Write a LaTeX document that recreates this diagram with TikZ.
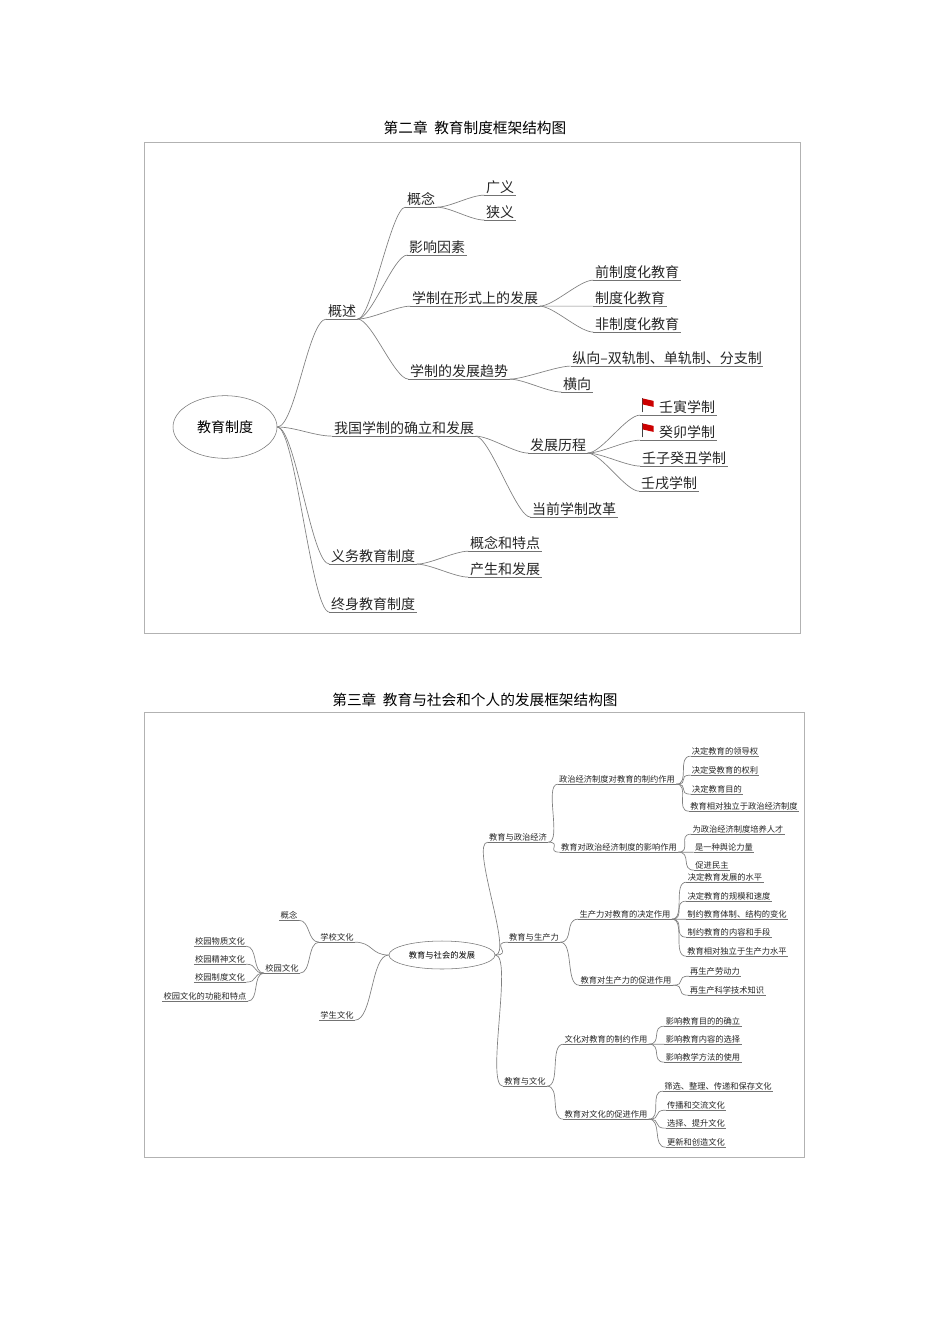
\documentclass[tikz,border=0pt]{standalone}
\usepackage{fontspec}
\setmainfont{Noto Sans CJK SC}
\newfontfamily\ttl{Noto Sans CJK SC}
\usetikzlibrary{shapes.geometric}
\tikzset{
 u/.style={inner sep=1pt, font=\fontsize{10.5}{12}\selectfont, text=black!85,
   append after command={(\tikzlastnode.south west) edge[draw=black!55,line width=0.5pt] (\tikzlastnode.south east)}},
 s/.style={u, font=\fontsize{6.2}{7}\selectfont, inner sep=0.8pt},
 lnk/.style={draw=black!50, line width=0.5pt},
 frm/.style={draw=black!30, line width=0.6pt},
 ttlst/.style={font=\fontsize{11}{13}\selectfont\ttl}
}
\newcommand{\lk}[2]{\draw[lnk] (#1.south east) .. controls +(14,0) and +(-14,0) .. (#2.south west);}
\newcommand{\lkr}[2]{\draw[lnk] (#1.east) .. controls +(18,0) and +(-18,0) .. (#2.south west);}
\newcommand{\lkrl}[2]{\draw[lnk] (#1.west) .. controls +(-18,0) and +(18,0) .. (#2.south east);}
\newcommand{\lkl}[2]{\draw[lnk] (#1.south west) .. controls +(-12,0) and +(12,0) .. (#2.south east);}
\newcommand{\flag}[1]{%
 \draw[black!55,line width=0.5pt] ([xshift=-13pt]#1.south west) -- (#1.south west);
 \draw[black!75,line width=0.7pt] ([xshift=-11pt,yshift=2pt]#1.south west) -- ++(0,-14);
 \fill[red!80!black] ([xshift=-11pt,yshift=2pt]#1.south west) ++(0,-14) -- ++(11,2.5) -- ++(0,6) -- ++(-11,-2.5) -- cycle;}
\begin{document}
\begin{tikzpicture}[x=0.75pt,y=-0.75pt]
\useasboundingbox (0,0) rectangle (950,1344);
\fill[white] (0,0) rectangle (950,1344);
% ---------- diagram 1
\node[ttlst] (t1) at (475,128) {第二章\ \ 教育制度框架结构图};
\draw[frm] (144,142) rectangle (800,633);
\node[draw=black!55, ellipse, minimum width=78pt, minimum height=47pt, font=\fontsize{10.5}{12}\selectfont] (r1) at (225,427) {教育制度};
\node[u] (a) at (342,311) {概述};
\node[u] (a1) at (421,199) {概念};
\node[u] (a11) at (500,187) {广义};
\node[u] (a12) at (500,212) {狭义};
\node[u] (a2) at (437,247) {影响因素};
\node[u] (a3) at (475,298) {学制在形式上的发展};
\node[u] (a31) at (637,272) {前制度化教育};
\node[u] (a32) at (630,298) {制度化教育};
\node[u] (a33) at (637,324) {非制度化教育};
\node[u] (a4) at (459,371) {学制的发展趋势};
\node[u] (a41) at (667,358) {纵向--双轨制、单轨制、分支制};
\node[u] (a42) at (577,384) {横向};
\node[u] (b) at (404,428) {我国学制的确立和发展};
\node[u] (b1) at (558,445) {发展历程};
\node[u] (b11) at (687,407) {壬寅学制};
\node[u] (b12) at (687,432) {癸卯学制};
\node[u] (b13) at (684,458) {壬子癸丑学制};
\node[u] (b14) at (669,483) {壬戌学制};
\node[u] (b2) at (574,509) {当前学制改革};
\node[u] (c) at (373,556) {义务教育制度};
\node[u] (c1) at (505,543) {概念和特点};
\node[u] (c2) at (505,569) {产生和发展};
\node[u] (d) at (373,604) {终身教育制度};
\flag{b11}\flag{b12}
\lkr{r1}{a}\lkr{r1}{b}\lkr{r1}{c}\lkr{r1}{d}
\lk{a}{a1}\lk{a}{a2}\lk{a}{a3}\lk{a}{a4}
\lk{a1}{a11}\lk{a1}{a12}
\lk{a3}{a31}\lk{a3}{a32}\lk{a3}{a33}
\lk{a4}{a41}\lk{a4}{a42}
\lk{b}{b1}\lk{b}{b2}
\draw[lnk] (b1.south east) .. controls +(14,0) and +(-14,0) .. ([xshift=-13pt]b11.south west);
\draw[lnk] (b1.south east) .. controls +(14,0) and +(-14,0) .. ([xshift=-13pt]b12.south west);
\lk{b1}{b13}\lk{b1}{b14}
\lk{c}{c1}\lk{c}{c2}
% ---------- diagram 2
\node[ttlst] (t2) at (475,700) {第三章\ \ 教育与社会和个人的发展框架结构图};
\draw[frm] (144,712) rectangle (804,1157);
\node[draw=black!55, ellipse, minimum width=60pt, minimum height=21pt, font=\fontsize{6.2}{7}\selectfont] (r2) at (442,955) {教育与社会的发展};
\node[s] (p) at (518,837) {教育与政治经济};
\node[s] (p1) at (617,779) {政治经济制度对教育的制约作用};
\node[s] (p11) at (725,751) {决定教育的领导权};
\node[s] (p12) at (725,770) {决定受教育的权利};
\node[s] (p13) at (717,789) {决定教育目的};
\node[s] (p14) at (744,806) {教育相对独立于政治经济制度};
\node[s] (p2) at (619,847) {教育对政治经济制度的影响作用};
\node[s] (p21) at (738,829) {为政治经济制度培养人才};
\node[s] (p22) at (724,847) {是一种舆论力量};
\node[s] (p23) at (712,865) {促进民主};
\node[s] (q) at (534,937) {教育与生产力};
\node[s] (q1) at (625,914) {生产力对教育的决定作用};
\node[s] (q11) at (725,877) {决定教育发展的水平};
\node[s] (q12) at (729,896) {决定教育的规模和速度};
\node[s] (q13) at (737,914) {制约教育体制、结构的变化};
\node[s] (q14) at (729,932) {制约教育的内容和手段};
\node[s] (q15) at (737,951) {教育相对独立于生产力水平};
\node[s] (q2) at (626,980) {教育对生产力的促进作用};
\node[s] (q21) at (715,971) {再生产劳动力};
\node[s] (q22) at (727,990) {再生产科学技术知识};
\node[s] (w) at (525,1081) {教育与文化};
\node[s] (w1) at (606,1039) {文化对教育的制约作用};
\node[s] (w11) at (703,1021) {影响教育目的的确立};
\node[s] (w12) at (703,1039) {影响教育内容的选择};
\node[s] (w13) at (703,1057) {影响教学方法的使用};
\node[s] (w2) at (606,1114) {教育对文化的促进作用};
\node[s] (w21) at (718,1086) {筛选、整理、传递和保存文化};
\node[s] (w22) at (696,1105) {传播和交流文化};
\node[s] (w23) at (696,1123) {选择、提升文化};
\node[s] (w24) at (696,1142) {更新和创造文化};
\node[s] (x) at (337,937) {学校文化};
\node[s] (x1) at (289,915) {概念};
\node[s] (x2) at (282,968) {校园文化};
\node[s] (x21) at (220,941) {校园物质文化};
\node[s] (x22) at (220,959) {校园精神文化};
\node[s] (x23) at (220,977) {校园制度文化};
\node[s] (x24) at (205,996) {校园文化的功能和特点};
\node[s] (y) at (337,1015) {学生文化};
\lkr{r2}{p}\lkr{r2}{q}\lkr{r2}{w}
\lk{p}{p1}\lk{p}{p2}
\lk{p1}{p11}\lk{p1}{p12}\lk{p1}{p13}\lk{p1}{p14}
\lk{p2}{p21}\lk{p2}{p22}\lk{p2}{p23}
\lk{q}{q1}\lk{q}{q2}
\lk{q1}{q11}\lk{q1}{q12}\lk{q1}{q13}\lk{q1}{q14}\lk{q1}{q15}
\lk{q2}{q21}\lk{q2}{q22}
\lk{w}{w1}\lk{w}{w2}
\lk{w1}{w11}\lk{w1}{w12}\lk{w1}{w13}
\lk{w2}{w21}\lk{w2}{w22}\lk{w2}{w23}\lk{w2}{w24}
\lkrl{r2}{x}\lkrl{r2}{y}
\lkl{x}{x1}\lkl{x}{x2}
\lkl{x2}{x21}\lkl{x2}{x22}\lkl{x2}{x23}\lkl{x2}{x24}
\end{tikzpicture}
\end{document}
